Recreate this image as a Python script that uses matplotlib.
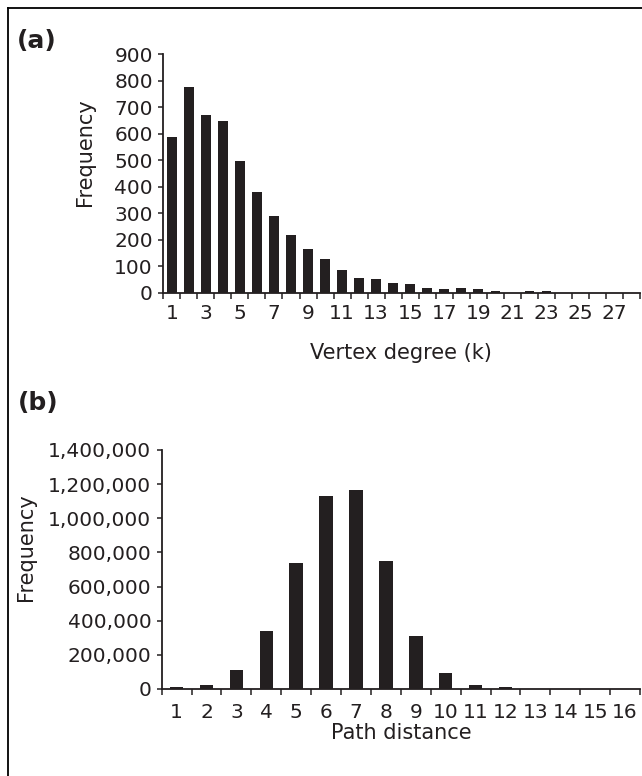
import matplotlib
matplotlib.use("Agg")
import matplotlib.pyplot as plt
from matplotlib.ticker import FuncFormatter, FixedLocator
from matplotlib.lines import Line2D

# ---- data ----
degree_categories = list(range(1, 29))
degree_freq = [587, 776, 672, 649, 498, 380, 290, 219, 167, 129, 86, 58, 53, 39,
               34, 20, 15, 20, 15, 6, 1, 6, 6, 0, 0, 0, 0, 0]
degree_ticklabels = [str(k) for k in range(1, 28, 2)]
degree_yticks = [0, 100, 200, 300, 400, 500, 600, 700, 800, 900]

path_categories = list(range(1, 17))
path_freq = [10000, 23000, 109000, 342000, 736000, 1133000, 1164000, 752000,
             310000, 92000, 23000, 10000, 0, 0, 0, 0]
path_ticklabels = [str(k) for k in path_categories]
path_yticks = [0, 200000, 400000, 600000, 800000, 1000000, 1200000, 1400000]

INK = "#231f20"
plt.rcParams['font.family'] = ['DejaVu Sans']
W, H = 642, 776
fig = plt.figure(figsize=(W / 100, H / 100), dpi=100)


def px_axes(left, right, top, bottom):
    return fig.add_axes([left / W, 1 - bottom / H, (right - left) / W, (bottom - top) / H])


def style(ax, n, yticks, ymax, ticklabels, label_pos, fmt=None, xpad=8):
    ax.set_xlim(0.5, n + 0.5)
    ax.set_ylim(0, ymax)
    for s in ['top', 'right']:
        ax.spines[s].set_visible(False)
    for s in ['left', 'bottom']:
        ax.spines[s].set_color(INK)
        ax.spines[s].set_linewidth(1.3)
    ax.set_yticks(yticks)
    if fmt:
        ax.yaxis.set_major_formatter(FuncFormatter(fmt))
    ax.tick_params(axis='y', direction='out', length=3.5, width=1.1, color=INK,
                   labelsize=14.5, labelcolor=INK, pad=4)
    ax.xaxis.set_minor_locator(FixedLocator([i + 0.5 for i in range(0, n + 1)]))
    ax.set_xticks(label_pos)
    ax.set_xticklabels(ticklabels)
    ax.tick_params(axis='x', which='major', length=0, labelsize=14.5,
                   labelcolor=INK, pad=xpad)
    ax.tick_params(axis='x', which='minor', direction='out', length=4.5,
                   width=1.1, color=INK)


# Panel (a)
ax1 = px_axes(163.3, 640, 54, 293)
ax1.bar(degree_categories, degree_freq, width=0.56, color=INK)
style(ax1, len(degree_categories), degree_yticks, 900, degree_ticklabels,
      list(range(1, 28, 2)), xpad=8)

# Panel (b)
ax2 = px_axes(161.7, 640, 450, 689)
ax2.bar(path_categories, path_freq, width=0.45, color=INK)
style(ax2, len(path_categories), path_yticks, 1400000, path_ticklabels,
      path_categories, fmt=lambda v, p: f"{int(v):,}", xpad=10)

# Labels
fig.text(85 / W, 1 - 152 / H, "Frequency", rotation=90, ha='center', va='center',
         fontsize=15, color=INK)
fig.text(26 / W, 1 - 547 / H, "Frequency", rotation=90, ha='center', va='center',
         fontsize=15, color=INK)
fig.text(401 / W, 1 - 353 / H, "Vertex degree (k)", ha='center', va='center',
         fontsize=15, color=INK)
fig.text(401 / W, 1 - 733 / H, "Path distance", ha='center', va='center',
         fontsize=15, color=INK)
fig.text(37 / W, 1 - 41 / H, "(a)", ha='center', va='center', fontsize=18,
         fontweight='bold', color=INK)
fig.text(38 / W, 1 - 403 / H, "(b)", ha='center', va='center', fontsize=18,
         fontweight='bold', color=INK)

# Outer frame (left and top edges visible)
fig.add_artist(Line2D([7.5 / W, 7.5 / W], [0, 1 - 7.5 / H], transform=fig.transFigure,
                      color='black', lw=1.3))
fig.add_artist(Line2D([7.5 / W, 1], [1 - 7.5 / H, 1 - 7.5 / H], transform=fig.transFigure,
                      color='black', lw=1.3))

fig.savefig("out.png", dpi=100)
